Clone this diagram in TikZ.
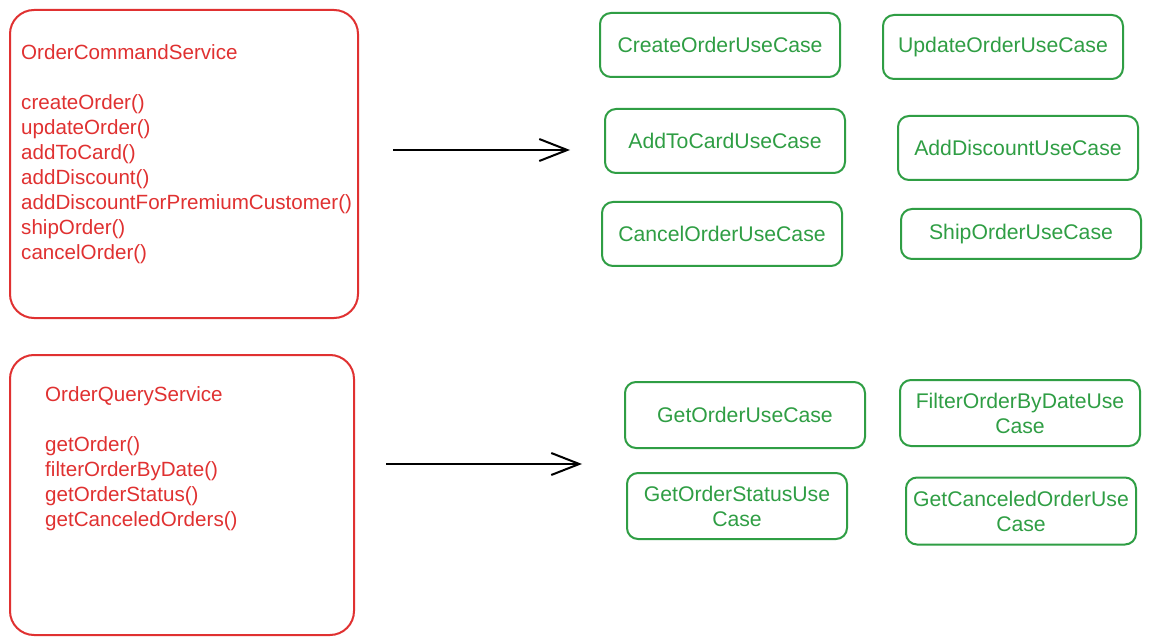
\documentclass[tikz,border=0pt]{standalone}
\usepackage{fontspec}
\setmainfont{Liberation Sans}
\usetikzlibrary{arrows.meta}
\definecolor{svcred}{HTML}{E03131}
\definecolor{ucgreen}{HTML}{2F9E44}
\begin{document}
\begin{tikzpicture}[x=1pt,y=-1pt,
  svcbox/.style={draw=svcred, line width=2pt, rounded corners=24pt, inner sep=0pt},
  svctext/.style={text=svcred, font=\fontsize{20.6}{25}\selectfont, align=left, inner sep=0pt, anchor=north west},
  uc/.style={draw=ucgreen, line width=2pt, rounded corners=11pt, minimum width=240pt, minimum height=64pt,
    align=center, text=ucgreen, font=\fontsize{21.2}{25}\selectfont, inner sep=0pt},
  arr/.style={line width=2pt, -{Straight Barb[length=28pt,width=22pt,line width=2pt]}}]
\useasboundingbox (0,0) rectangle (1151,644);
\fill[white] (0,0) rectangle (1151,644);

% service boxes
\node[svcbox, minimum width=348pt, minimum height=308pt] (cmdbox) at (184,164) {};
\node[svctext] (cmdtext) at (21,44) {OrderCommandService\\[25pt]
createOrder()\\updateOrder()\\addToCard()\\addDiscount()\\addDiscountForPremiumCustomer()\\shipOrder()\\cancelOrder()};

\node[svcbox, minimum width=344pt, minimum height=280pt] (qrybox) at (182,495) {};
\node[svctext] (qrytext) at (45,386) {OrderQueryService\\[25pt]
getOrder()\\filterOrderByDate()\\getOrderStatus()\\getCanceledOrders()};

% arrows
\coordinate (a1s) at (393,150);
\coordinate (a1e) at (570,150);
\draw[arr] (a1s) -- (a1e);
\coordinate (a2s) at (386,464);
\coordinate (a2e) at (582,464);
\draw[arr] (a2s) -- (a2e);

% use case boxes
\node[uc] (create) at (720,45) {CreateOrderUseCase};
\node[uc] (update) at (1003,47) {UpdateOrderUseCase};
\node[uc] (addcard) at (725,141) {AddToCardUseCase};
\node[uc] (adddisc) at (1018,148) {AddDiscountUseCase};
\node[uc] (cancel) at (722,234) {CancelOrderUseCase};
\node[uc, minimum height=50pt] (ship) at (1021,234) {ShipOrderUseCase};

\node[uc, minimum height=66pt] (getorder) at (745,415) {GetOrderUseCase};
\node[uc, minimum height=66pt] (filter) at (1020,413) {FilterOrderByDateUse\\Case};
\node[uc, minimum width=220pt, minimum height=66pt] (status) at (737,506) {GetOrderStatusUse\\Case};
\node[uc, minimum width=230pt, minimum height=67pt] (canceled) at (1021,511) {GetCanceledOrderUse\\Case};
\end{tikzpicture}
\end{document}
